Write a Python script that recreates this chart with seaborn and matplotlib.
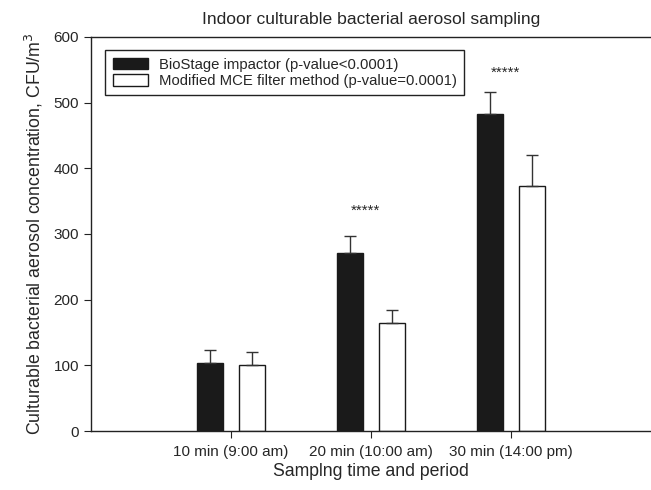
import pandas as pd
import seaborn as sns
import matplotlib.pyplot as plt

# values
periods = ['10 min (9:00 am)', '20 min (10:00 am)', '30 min (14:00 pm)']
methods = ['BioStage impactor (p-value<0.0001)', 'Modified MCE filter method (p-value=0.0001)']
biostage = [104, 271, 483]
biostage_err = [19, 26, 33]
mce = [100, 164, 373]
mce_err = [20, 20, 47]
star_y = [None, 336, 545]

df = pd.DataFrame({
    'Period': periods * 2,
    'Method': [methods[0]] * 3 + [methods[1]] * 3,
    'Conc': biostage + mce,
})

sns.set_style('ticks')
plt.rcParams['font.family'] = ['Liberation Sans', 'DejaVu Sans']

fig = plt.figure(figsize=(6.51, 4.9), dpi=100)
ax = fig.add_axes([0.1398, 0.1204, 0.8602, 0.8041])

sns.barplot(data=df, x='Period', y='Conc', hue='Method', order=periods, hue_order=methods,
            palette=['#1a1a1a', 'white'], width=0.6, gap=0.38, edgecolor='#1a1a1a',
            linewidth=1, saturation=1, errorbar=None, ax=ax)

# upward error bars at each bar's centre
errs = biostage_err + mce_err
for patch, err in zip(ax.patches[:6], errs):
    xc = patch.get_x() + patch.get_width() / 2
    top = patch.get_height()
    ax.errorbar(xc, top, yerr=[[0], [err]], fmt='none', ecolor='#333333',
                elinewidth=1, capsize=4.3, capthick=1, zorder=1)

for i, y in enumerate(star_y):
    if y is not None:
        ax.text(i - 0.04, y, '*****', ha='center', va='center', fontsize=11)

ax.set_xlim(-1, 3)
ax.set_ylim(0, 600)
ax.set_yticks([0, 100, 200, 300, 400, 500, 600])
ax.tick_params(axis='both', labelsize=11, length=5, direction='out', color='#222222')
ax.tick_params(axis='x', pad=5)
ax.spines['right'].set_visible(False)
for s in ['left', 'bottom', 'top']:
    ax.spines[s].set_color('#222222')
    ax.spines[s].set_linewidth(1)

ax.set_title('Indoor culturable bacterial aerosol sampling', fontsize=12.6, pad=9)
ax.set_xlabel('Samplng time and period', fontsize=12.7, labelpad=3)
ax.set_ylabel('Culturable bacterial aerosol concentration, CFU/m$^3$', fontsize=12.8, labelpad=6)

leg = ax.legend(loc='upper left', bbox_to_anchor=(0.012, 0.985), fontsize=10.7,
                frameon=True, fancybox=False, edgecolor='#222222',
                handlelength=2.4, handleheight=0.8, borderpad=0.5, labelspacing=0.15,
                handletextpad=0.7)
leg.get_frame().set_linewidth(1)
leg.get_frame().set_alpha(1)

fig.savefig('out.png', dpi=100)
